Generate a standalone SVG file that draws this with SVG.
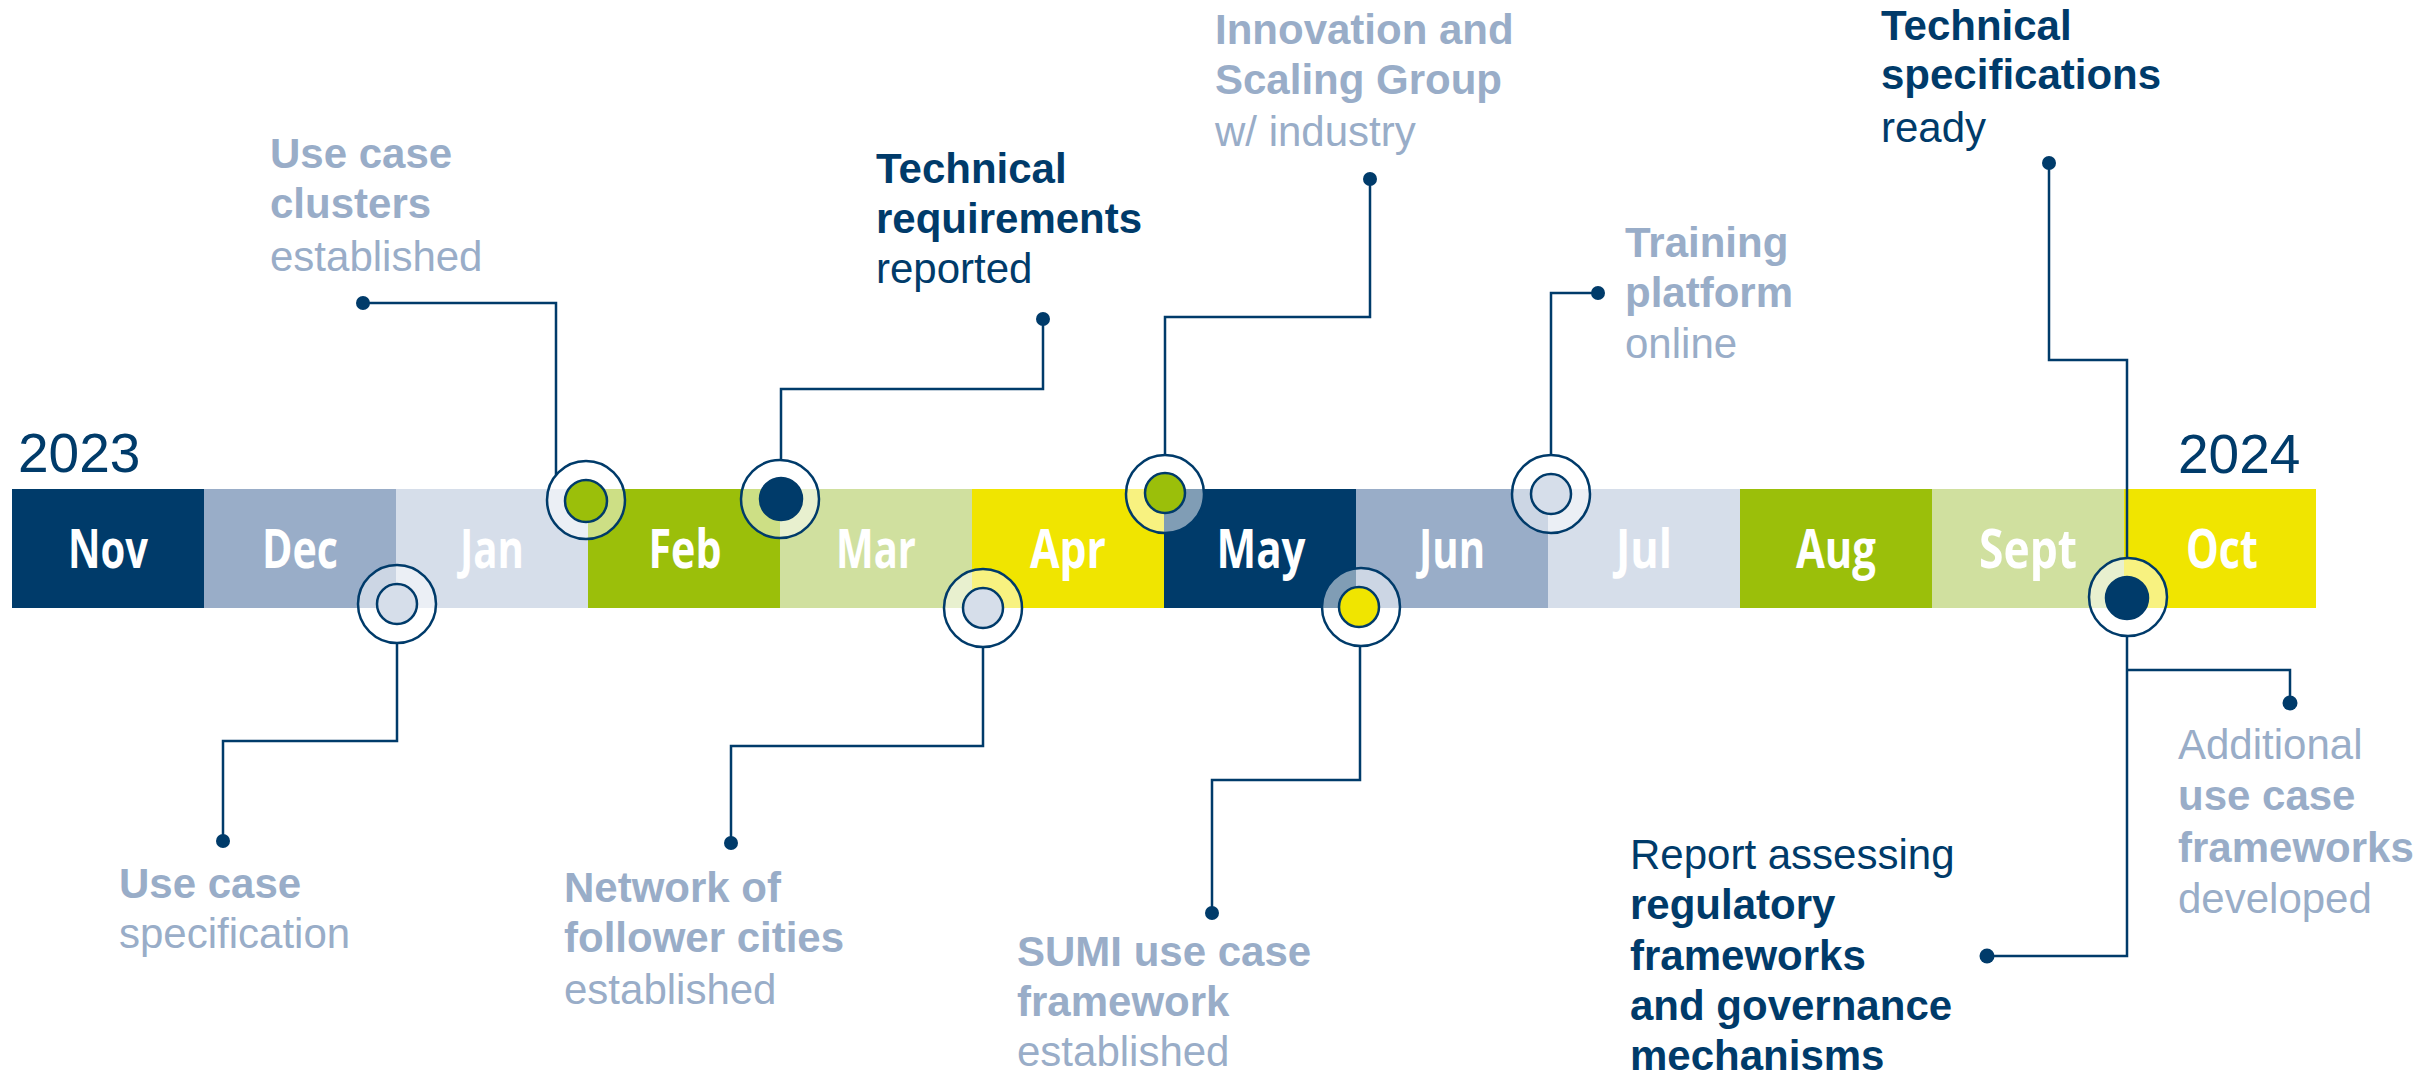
<svg xmlns="http://www.w3.org/2000/svg" width="2432" height="1077" viewBox="0 0 2432 1077">
<style>
.t{font-family:"Liberation Sans",Arial,sans-serif;font-size:42px}
.b{font-weight:bold}
.g{fill:#99adc8}
.n{fill:#003b6a}
.yr{font-family:"Liberation Sans",Arial,sans-serif;font-size:55px;fill:#003b6a}
.m{font-family:"Open Sans","DejaVu Sans",sans-serif;font-weight:bold;font-size:53px;fill:#ffffff;text-anchor:middle}
.con{fill:none;stroke:#003b6a;stroke-width:2.5}
.dot{fill:#003b6a}
.outer{fill:#ffffff;fill-opacity:0.5;stroke:#003b6a;stroke-width:2.5}
.inner{stroke:#003b6a;stroke-width:2.5}
</style>
<rect width="2432" height="1077" fill="#ffffff"/>
<g id="years">
<text class="yr" x="18" y="472">2023</text>
<text class="yr" x="2178" y="473">2024</text>
</g>
<g id="timeline">
<rect x="12" y="489" width="192" height="119" fill="#003b6a"/>
<rect x="204" y="489" width="192" height="119" fill="#99adc8"/>
<rect x="396" y="489" width="192" height="119" fill="#d6deea"/>
<rect x="588" y="489" width="192" height="119" fill="#9bbf0a"/>
<rect x="780" y="489" width="192" height="119" fill="#d0e09f"/>
<rect x="972" y="489" width="192" height="119" fill="#f0e500"/>
<rect x="1164" y="489" width="192" height="119" fill="#003b6a"/>
<rect x="1356" y="489" width="192" height="119" fill="#99adc8"/>
<rect x="1548" y="489" width="192" height="119" fill="#d6deea"/>
<rect x="1740" y="489" width="192" height="119" fill="#9bbf0a"/>
<rect x="1932" y="489" width="192" height="119" fill="#d0e09f"/>
<rect x="2124" y="489" width="192" height="119" fill="#f0e500"/>
<text class="m" x="108" y="568" textLength="80" lengthAdjust="spacingAndGlyphs">Nov</text>
<text class="m" x="300" y="568" textLength="76" lengthAdjust="spacingAndGlyphs">Dec</text>
<text class="m" x="492" y="568" textLength="64" lengthAdjust="spacingAndGlyphs">Jan</text>
<text class="m" x="685" y="568" textLength="73" lengthAdjust="spacingAndGlyphs">Feb</text>
<text class="m" x="876" y="568" textLength="80" lengthAdjust="spacingAndGlyphs">Mar</text>
<text class="m" x="1068" y="568" textLength="76" lengthAdjust="spacingAndGlyphs">Apr</text>
<text class="m" x="1261" y="568" textLength="89" lengthAdjust="spacingAndGlyphs">May</text>
<text class="m" x="1452" y="568" textLength="66" lengthAdjust="spacingAndGlyphs">Jun</text>
<text class="m" x="1644" y="568" textLength="56" lengthAdjust="spacingAndGlyphs">Jul</text>
<text class="m" x="1836" y="568" textLength="80" lengthAdjust="spacingAndGlyphs">Aug</text>
<text class="m" x="2028" y="568" textLength="98" lengthAdjust="spacingAndGlyphs">Sept</text>
<text class="m" x="2222" y="568" textLength="72" lengthAdjust="spacingAndGlyphs">Oct</text>
</g>
<g id="connectors">
<path class="con" d="M363,303 H556 V475"/>
<path class="con" d="M1043,319 V389 H781 V460"/>
<path class="con" d="M1370,179 V317 H1165 V455"/>
<path class="con" d="M1598,293 H1551 V455"/>
<path class="con" d="M2049,163 V360 H2127 V558"/>
<path class="con" d="M397,643 V741 H223 V841"/>
<path class="con" d="M983,647 V746 H731 V843"/>
<path class="con" d="M1360,646 V780 H1212 V913"/>
<path class="con" d="M2127,636 V956 H1987"/>
<path class="con" d="M2127,670 H2290 V703"/>
<circle class="dot" cx="363" cy="303" r="7"/>
<circle class="dot" cx="1043" cy="319" r="7"/>
<circle class="dot" cx="1370" cy="179" r="7"/>
<circle class="dot" cx="1598" cy="293" r="7"/>
<circle class="dot" cx="2049" cy="163" r="7"/>
<circle class="dot" cx="223" cy="841" r="7"/>
<circle class="dot" cx="731" cy="843" r="7"/>
<circle class="dot" cx="1212" cy="913" r="7"/>
<circle class="dot" cx="1987" cy="956" r="7.5"/>
<circle class="dot" cx="2290" cy="703" r="7.5"/>
</g>
<g id="m-clusters">
<circle class="outer" cx="586" cy="500" r="39"/>
<circle class="inner" cx="586" cy="501" r="21" fill="#9bbf0a"/>
<text class="t g"><tspan class="b" x="270" y="168">Use case</tspan><tspan class="b" x="270" y="218">clusters</tspan><tspan x="270" y="271">established</tspan></text>
</g>
<g id="m-techreq">
<circle class="outer" cx="780" cy="499" r="39"/>
<circle class="inner" cx="781" cy="499" r="21" fill="#003b6a"/>
<text class="t n"><tspan class="b" x="876" y="183">Technical</tspan><tspan class="b" x="876" y="233">requirements</tspan><tspan x="876" y="283">reported</tspan></text>
</g>
<g id="m-innovation">
<circle class="outer" cx="1165" cy="494" r="39"/>
<circle class="inner" cx="1165" cy="493" r="20" fill="#9bbf0a"/>
<text class="t g"><tspan class="b" x="1215" y="44">Innovation and</tspan><tspan class="b" x="1215" y="94">Scaling Group</tspan><tspan x="1215" y="146">w/ industry</tspan></text>
</g>
<g id="m-training">
<circle class="outer" cx="1551" cy="494" r="39"/>
<circle class="inner" cx="1551" cy="494" r="20" fill="#d6deea"/>
<text class="t g"><tspan class="b" x="1625" y="257">Training</tspan><tspan class="b" x="1625" y="307">platform</tspan><tspan x="1625" y="358">online</tspan></text>
</g>
<g id="m-techspec">
<text class="t n"><tspan class="b" x="1881" y="40">Technical</tspan><tspan class="b" x="1881" y="89">specifications</tspan><tspan x="1881" y="142">ready</tspan></text>
</g>
<g id="m-usecase">
<circle class="outer" cx="397" cy="604" r="39"/>
<circle class="inner" cx="397" cy="604" r="20" fill="#d6deea"/>
<text class="t g"><tspan class="b" x="119" y="898">Use case</tspan><tspan x="119" y="948">specification</tspan></text>
</g>
<g id="m-network">
<circle class="outer" cx="983" cy="608" r="39"/>
<circle class="inner" cx="983" cy="608" r="20" fill="#d6deea"/>
<text class="t g"><tspan class="b" x="564" y="902">Network of</tspan><tspan class="b" x="564" y="952">follower cities</tspan><tspan x="564" y="1004">established</tspan></text>
</g>
<g id="m-sumi">
<circle class="outer" cx="1361" cy="607" r="39"/>
<circle class="inner" cx="1359" cy="607" r="20" fill="#f0e500"/>
<text class="t g"><tspan class="b" x="1017" y="966">SUMI use case</tspan><tspan class="b" x="1017" y="1016">framework</tspan><tspan x="1017" y="1066">established</tspan></text>
</g>
<g id="m-sept">
<circle class="outer" cx="2128" cy="597" r="39"/>
<circle class="inner" cx="2127" cy="598" r="21" fill="#003b6a"/>
</g>
<g id="m-report">
<text class="t n"><tspan x="1630" y="869">Report assessing</tspan><tspan class="b" x="1630" y="919">regulatory</tspan><tspan class="b" x="1630" y="970">frameworks</tspan><tspan class="b" x="1630" y="1020">and governance</tspan><tspan class="b" x="1630" y="1070">mechanisms</tspan></text>
</g>
<g id="m-additional">
<text class="t g"><tspan x="2178" y="759">Additional</tspan><tspan class="b" x="2178" y="810">use case</tspan><tspan class="b" x="2178" y="862">frameworks</tspan><tspan x="2178" y="913">developed</tspan></text>
</g>
</svg>
